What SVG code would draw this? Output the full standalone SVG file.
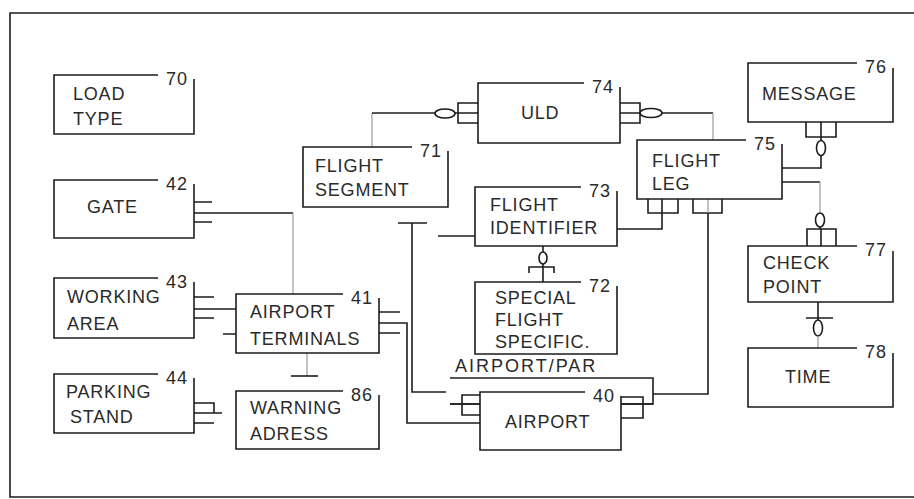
<svg xmlns="http://www.w3.org/2000/svg" width="914" height="499" viewBox="0 0 914 499">
<style>
.ln{fill:none;stroke:#1c1c1c;stroke-width:1.6}
.fa{fill:none;stroke:#9a9a9a;stroke-width:1.2}
.el{fill:#fff;stroke:#1c1c1c;stroke-width:1.6}
.bg{fill:#fff;stroke:none}
text{font-family:"Liberation Sans",Arial,sans-serif;font-size:18px;fill:#2a2a2a;letter-spacing:0.8px}
.num{text-anchor:end;letter-spacing:1px}
</style>
<rect x="0" y="0" width="914" height="499" fill="#fff"/>
<g id="frame"><path class="ln" d="M914,13 H10 V497 H914" stroke-width="2"/></g>

<g id="connectors">
<!-- GATE - AIRPORT TERMINALS -->
<path class="ln" d="M194,202 H212 M194,222 H212 M194,213 H293"/>
<path class="fa" d="M293,213 V294"/>
<!-- WORKING AREA - AIRPORT TERMINALS -->
<path class="ln" d="M194,297 H214 M194,318 H214 M194,309 H236 M223,334 H236"/>
<!-- PARKING STAND - WARNING ADRESS -->
<path class="ln" d="M194,403 H214 V413 M194,423 H214 M194,413 H222"/>
<!-- AIRPORT TERMINALS - WARNING ADRESS -->
<path class="fa" d="M307,353 V376"/>
<path class="ln" d="M291,376 H318"/>
<!-- AIRPORT TERMINALS - AIRPORT -->
<path class="ln" d="M379,312 H400 M379,333 H400 M379,323 H407 V423 H480"/>
<!-- FLIGHT SEGMENT - AIRPORT/PAR -->
<path class="ln" d="M398,223 H427 M412,223 V392 H446"/>
<!-- stub to FLIGHT IDENTIFIER -->
<path class="ln" d="M438,236 H475"/>
<!-- FLIGHT SEGMENT - ULD -->
<path class="fa" d="M372,147 V113"/>
<path class="ln" d="M372,113 H435"/>
<ellipse class="el" cx="445" cy="113.5" rx="10" ry="4.5"/>
<path class="ln" d="M478,103 H458 V123 H478 M455,113 H478"/>
<!-- ULD - FLIGHT LEG -->
<path class="ln" d="M620,103 H640 V123 H620 M620,113 H640"/>
<ellipse class="el" cx="651" cy="113" rx="11" ry="4.5"/>
<path class="ln" d="M662,113 H713"/>
<path class="fa" d="M713,113 V140"/>
<!-- MESSAGE - FLIGHT LEG -->
<path class="ln" d="M806,122 V137 H836 V122 M821,122 V140"/>
<ellipse class="el" cx="821" cy="148" rx="4.5" ry="7.5"/>
<path class="ln" d="M821,155 V168 H782"/>
<!-- FLIGHT LEG - CHECK POINT -->
<path class="ln" d="M782,182 H820"/>
<path class="fa" d="M820,182 V212"/>
<ellipse class="el" cx="820" cy="220" rx="4.5" ry="7"/>
<path class="ln" d="M820,227 V229 M807,246 V229 H836 V246 M821,229 V246"/>
<!-- CHECK POINT - TIME -->
<path class="ln" d="M818,302 V320 M806,318 H833"/>
<ellipse class="el" cx="818" cy="328" rx="4.5" ry="8"/>
<path class="fa" d="M818,336 V348"/>
<!-- FLIGHT LEG - FLIGHT IDENTIFIER -->
<path class="ln" d="M648,199 V213 H678 V199 M662,199 V229 H617"/>
<!-- FLIGHT LEG - AIRPORT/PAR -->
<path class="ln" d="M693,199 V213 H722 V199 M708,213 V394 H653"/>
<path class="fa" d="M708,199 V213"/>
<!-- FLIGHT IDENTIFIER - SPECIAL FLIGHT SPECIFIC -->
<path class="ln" d="M543,246 V252"/>
<ellipse class="el" cx="543" cy="258" rx="4" ry="6"/>
<path class="ln" d="M543,264 V282 M529,273 V267 H554 V273"/>
</g>

<g id="n70">
<path class="ln" d="M158,75 H54 V134 H194 V79"/>
<text x="73" y="100">LOAD</text><text x="73" y="125">TYPE</text>
<text class="num" x="188" y="85">70</text>
</g>
<g id="n42">
<path class="ln" d="M158,180 H54 V238 H194 V184"/>
<text x="87" y="213">GATE</text>
<text class="num" x="188" y="190">42</text>
</g>
<g id="n43">
<path class="ln" d="M158,278 H54 V338 H194 V282"/>
<text x="67" y="303">WORKING</text><text x="67" y="330">AREA</text>
<text class="num" x="188" y="288">43</text>
</g>
<g id="n44">
<path class="ln" d="M158,374 H54 V433 H194 V378"/>
<text x="66" y="398">PARKING</text><text x="70" y="423">STAND</text>
<text class="num" x="188" y="384">44</text>
</g>
<g id="n41">
<path class="ln" d="M343,294 H236 V353 H379 V298"/>
<text x="250" y="318">AIRPORT</text><text x="250" y="345">TERMINALS</text>
<text class="num" x="373" y="304">41</text>
</g>
<g id="n86">
<path class="ln" d="M343,391 H236 V449 H379 V395"/>
<text x="250" y="414">WARNING</text><text x="250" y="440">ADRESS</text>
<text class="num" x="373" y="401">86</text>
</g>
<g id="n71">
<path class="ln" d="M412,147 H303 V207 H448 V151"/>
<text x="315" y="172">FLIGHT</text><text x="315" y="196">SEGMENT</text>
<text class="num" x="442" y="157">71</text>
</g>
<g id="n74">
<path class="ln" d="M584,83 H478 V143 H620 V87"/>
<text x="521" y="119">ULD</text>
<text class="num" x="614" y="93">74</text>
</g>
<g id="n75">
<path class="ln" d="M746,140 H637 V199 H782 V144"/>
<text x="652" y="167">FLIGHT</text><text x="652" y="190">LEG</text>
<text class="num" x="776" y="150">75</text>
</g>
<g id="n73">
<path class="ln" d="M581,187 H475 V246 H617 V191"/>
<text x="490" y="211">FLIGHT</text><text x="490" y="234">IDENTIFIER</text>
<text class="num" x="611" y="197">73</text>
</g>
<g id="n72">
<path class="ln" d="M581,282 H475 V354 H617 V286"/>
<text x="495" y="304">SPECIAL</text><text x="495" y="326">FLIGHT</text><text x="495" y="348">SPECIFIC.</text>
<text class="num" x="611" y="292">72</text>
</g>
<g id="npar">
<path class="ln" d="M450,378 H653 V404 H450"/>
<text x="455" y="372" style="letter-spacing:2px">AIRPORT/PAR</text>
</g>
<g id="n40">
<rect class="bg" x="480" y="392" width="141" height="58"/>
<path class="ln" d="M585,392 H480 V450 H621 V396"/>
<path class="ln" d="M480,395 H462 V415 H480 M450,404 H480"/>
<path class="ln" d="M621,397 H643 V418 H621 M621,404 H653"/>
<text x="505" y="428">AIRPORT</text>
<text class="num" x="615" y="402">40</text>
</g>
<g id="n76">
<path class="ln" d="M857,63 H748 V122 H893 V68"/>
<text x="762" y="100">MESSAGE</text>
<text class="num" x="887" y="73">76</text>
</g>
<g id="n77">
<path class="ln" d="M857,246 H748 V302 H893 V251"/>
<text x="763" y="269">CHECK</text><text x="763" y="293">POINT</text>
<text class="num" x="887" y="256">77</text>
</g>
<g id="n78">
<path class="ln" d="M857,348 H748 V407 H893 V353"/>
<text x="785" y="383">TIME</text>
<text class="num" x="887" y="358">78</text>
</g>
</svg>
